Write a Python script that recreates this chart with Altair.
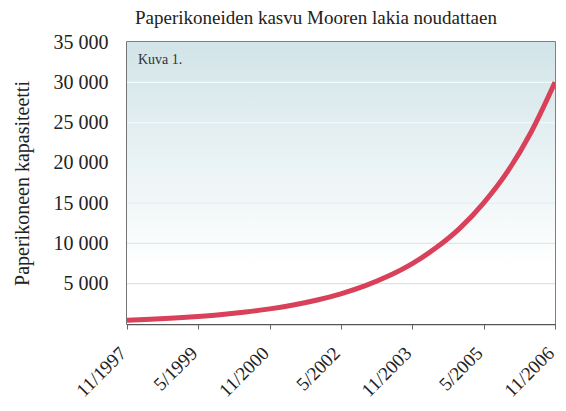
import altair as alt
import pandas as pd

# --- data -------------------------------------------------------------
dates = [
    "1997-11-01", "1998-05-01", "1998-11-01", "1999-05-01", "1999-11-01",
    "2000-05-01", "2000-11-01", "2001-05-01", "2001-11-01", "2002-05-01",
    "2002-11-01", "2003-05-01", "2003-11-01", "2004-05-01", "2004-11-01",
    "2005-05-01", "2005-11-01", "2006-05-01", "2006-11-01",
]
capacity = [470, 590, 745, 940, 1180, 1490, 1880, 2360, 2980, 3750,
            4730, 5950, 7500, 9450, 11900, 15000, 18900, 23800, 30000]

tick_dates = ["1997-11-01", "1999-05-01", "2000-11-01", "2002-05-01",
              "2003-11-01", "2005-05-01", "2006-11-01"]
tick_labels = ["11/1997", "5/1999", "11/2000", "5/2002",
               "11/2003", "5/2005", "11/2006"]
y_ticks = [5000, 10000, 15000, 20000, 25000, 30000, 35000]
grid_values = [5000, 10000, 15000, 20000, 25000, 30000]

title_text = "Paperikoneiden kasvu Mooren lakia noudattaen"
y_title = "Paperikoneen kapasiteetti"
note_text = "Kuva 1."

FONT = "Liberation Serif"
W, H = 428, 282

df = pd.DataFrame({"date": dates, "value": capacity})
grid_df = pd.DataFrame({"g": grid_values})

tick_ms = [int(pd.Timestamp(d).value // 10**6) for d in tick_dates]
label_map = "{" + ",".join(f"'{d[:7]}':'{l}'" for d, l in zip(tick_dates, tick_labels)) + "}"

x_scale = alt.Scale(type="utc", domain=[tick_ms[0], tick_ms[-1]])
y_scale = alt.Scale(domain=[0, 35000], nice=False)

y_axis = alt.Axis(values=y_ticks, ticks=False, grid=False,
                  labelExpr="replace(format(datum.value, ','), ',', ' ')",
                  labelFont=FONT, labelFontSize=20, labelColor="#222",
                  labelPadding=19, labelFlush=False, labelOverlap=False,
                  titleFont=FONT, titleFontSize=20, titleFontWeight="normal",
                  titleColor="#222", titlePadding=21,
                  domainColor="#555", domainWidth=1.5)

bg = alt.Chart(pd.DataFrame({"a": [0]})).mark_rect(
    color={
        "gradient": "linear", "x1": 0, "y1": 0, "x2": 0, "y2": 1,
        "stops": [{"offset": 0, "color": "#d2e4e8"},
                  {"offset": 0.8, "color": "#ffffff"},
                  {"offset": 1, "color": "#ffffff"}],
    }
).encode(x=alt.value(0), x2=alt.value(W), y=alt.value(0), y2=alt.value(H))

rules = alt.Chart(grid_df).mark_rule(strokeWidth=1.2).encode(
    y=alt.Y("g:Q", scale=y_scale, title=y_title, axis=y_axis),
    color=alt.Color("g:Q", scale=alt.Scale(domain=[5000, 30000],
                                           range=["#d2e6e9", "#ffffff"]),
                    legend=None),
)

line = alt.Chart(df).mark_line(
    color="#d9405a", strokeWidth=5, interpolate="monotone", clip=True
).encode(
    x=alt.X("date:T", scale=x_scale, title=None,
            axis=alt.Axis(values=tick_ms, labelAngle=-45, labelAlign="right",
                          labelBaseline="alphabetic",
                          labelExpr=f"{label_map}[utcFormat(datum.value, '%Y-%m')]",
                          labelOverlap=False, labelFlush=False, labelBound=False,
                          labelFont=FONT, labelFontSize=19, labelColor="#222",
                          labelPadding=25, tickSize=5, tickColor="#666",
                          domainColor="#555", domainWidth=1.5, grid=False)),
    y=alt.Y("value:Q", scale=y_scale, title=y_title, axis=y_axis),
)

note = alt.Chart(pd.DataFrame({"t": [note_text]})).mark_text(
    align="left", baseline="middle", font=FONT, fontSize=14, color="#333"
).encode(x=alt.value(11), y=alt.value(18), text="t:N")

chart = alt.layer(bg, rules, line, note).properties(
    width=W, height=H,
    title=alt.TitleParams(title_text, font=FONT, fontSize=19, fontWeight="normal",
                          color="#222", anchor="start", frame="group", dx=8,
                          offset=4),
    autosize=alt.AutoSizeParams(type="none"),
    padding={"left": 119, "top": 34, "right": 3, "bottom": 79},
).configure_view(stroke="#555", strokeWidth=1.5)

chart.save("out.html", embed_options={"renderer": "svg", "actions": False})
